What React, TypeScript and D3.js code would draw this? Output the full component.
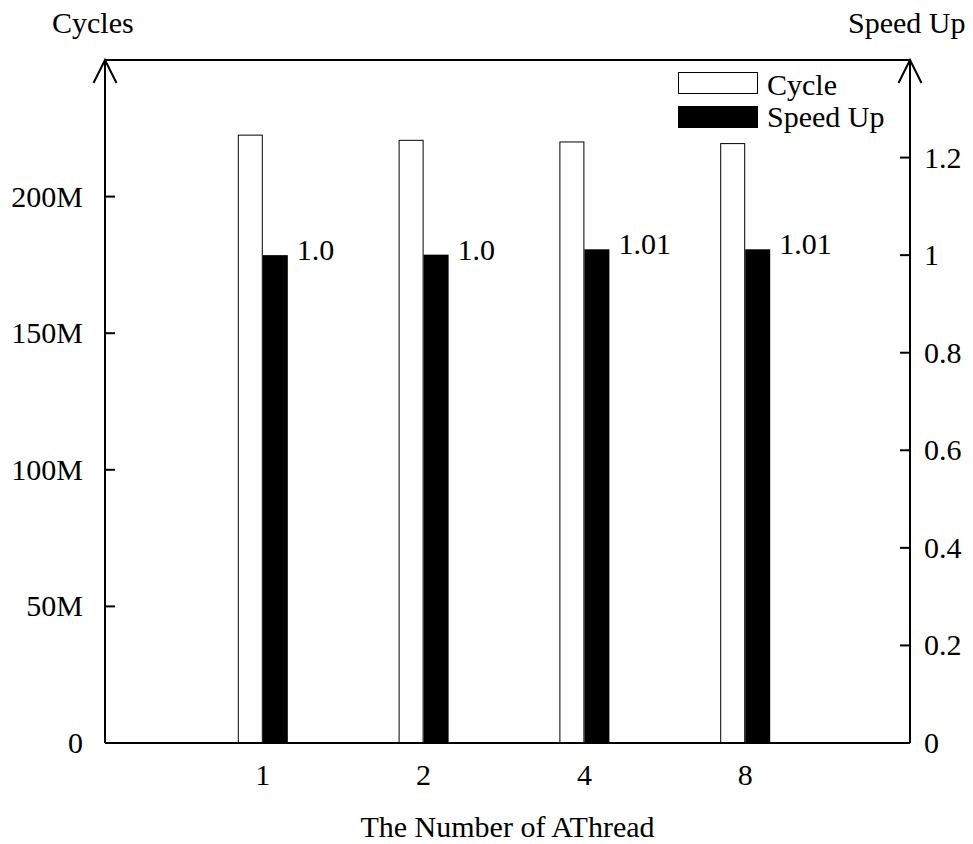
import * as d3 from "d3";

const threads = ["1", "2", "4", "8"];
const cycles = [222.5e6, 220.6e6, 220.0e6, 219.4e6];
const speedUp = [1.0, 1.001, 1.012, 1.012];
const speedLabels = ["1.0", "1.0", "1.01", "1.01"];
const leftTicks = [0, 50e6, 100e6, 150e6, 200e6];
const leftTickLabels = ["0", "50M", "100M", "150M", "200M"];
const rightTicks = [0, 0.2, 0.4, 0.6, 0.8, 1, 1.2];
const rightTickLabels = ["0", "0.2", "0.4", "0.6", "0.8", "1", "1.2"];

const W = 973;
const H = 844;
const left = 105;
const right = 910;
const top = 60;
const bottom = 743;
const font = "'Liberation Serif', 'Times New Roman', serif";
const fs = 30;

const App = () => {
  // categories sit at 1..4 on a 0..5 axis
  const x = d3.scaleLinear().domain([0, 5]).range([102, 906]);
  const yL = d3.scaleLinear().domain([0, 250e6]).range([bottom, top]);
  const yR = d3.scaleLinear().domain([0, 1.4]).range([bottom, top]);

  const arrow = (ax: number) =>
    `M${ax - 11.5},${top + 23}L${ax},${top}L${ax + 11.5},${top + 23}`;

  return (
    <svg
      width={W}
      height={H}
      style={{ position: "absolute", left: 0, top: 0, background: "#fff" }}
      fontFamily={font}
      fontSize={fs}
    >
      {/* bars */}
      {threads.map((t, i) => {
        const xc = x(i + 1);
        return (
          <g key={t}>
            <rect
              x={xc - 24.5}
              y={yL(cycles[i])}
              width={24}
              height={bottom - yL(cycles[i])}
              fill="#fff"
              stroke="#000"
              strokeWidth={1}
            />
            <rect
              x={xc}
              y={yR(speedUp[i])}
              width={25}
              height={bottom - yR(speedUp[i])}
              fill="#000"
            />
            <text x={xc + 34} y={yR(speedUp[i]) + 5}>
              {speedLabels[i]}
            </text>
            <text x={xc} y={785} textAnchor="middle">
              {t}
            </text>
          </g>
        );
      })}

      {/* frame */}
      <g stroke="#000" strokeWidth={2} fill="none">
        <line x1={left} x2={right} y1={top} y2={top} />
        <line x1={left} x2={right} y1={bottom} y2={bottom} />
        <line x1={left} x2={left} y1={top} y2={bottom} />
        <line x1={right} x2={right} y1={top} y2={bottom} />
        <path d={arrow(left)} />
        <path d={arrow(right)} />
        {leftTicks.map((v) => (
          <line key={"l" + v} x1={left} x2={left + 10} y1={yL(v)} y2={yL(v)} />
        ))}
        {rightTicks.map((v) => (
          <line key={"r" + v} x1={right - 10} x2={right} y1={yR(v)} y2={yR(v)} />
        ))}
      </g>

      {/* tick labels */}
      {leftTicks.map((v, i) => (
        <text key={"lt" + v} x={83} y={yL(v) + 10} textAnchor="end">
          {leftTickLabels[i]}
        </text>
      ))}
      {rightTicks.map((v, i) => (
        <text key={"rt" + v} x={924} y={yR(v) + 10}>
          {rightTickLabels[i]}
        </text>
      ))}

      {/* axis titles */}
      <text x={52} y={33}>Cycles</text>
      <text x={848} y={33}>Speed Up</text>
      <text x={(left + right) / 2} y={837} textAnchor="middle">
        The Number of AThread
      </text>

      {/* legend */}
      <rect x={678.5} y={72.5} width={79} height={21} fill="#fff" stroke="#000" strokeWidth={1} />
      <text x={767} y={95}>Cycle</text>
      <rect x={678} y={106} width={80} height={22} fill="#000" />
      <text x={767} y={127}>Speed Up</text>
    </svg>
  );
};

export default App;
